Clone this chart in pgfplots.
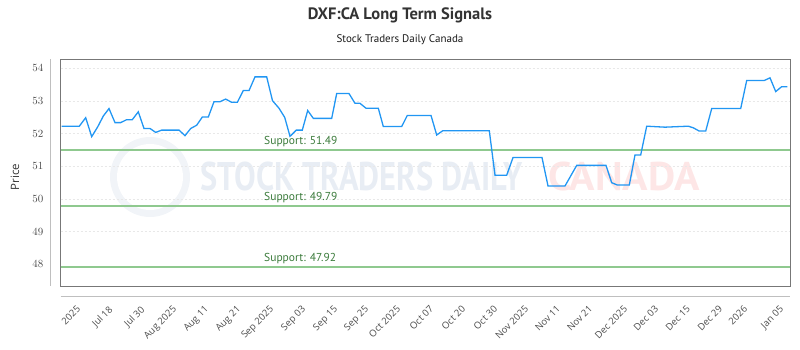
\documentclass[border=0pt]{standalone}
\usepackage{pgfplots}
\pgfplotsset{compat=1.18}
\usepackage{fontspec}
\setmainfont{PT Sans}
\newfontfamily\tickfont{Open Sans}
\definecolor{lineblue}{HTML}{2196F3}
\definecolor{supline}{HTML}{8FC98F}
\definecolor{suptext}{HTML}{3A7A3A}
\definecolor{bordergray}{HTML}{777777}
\definecolor{wmblue}{HTML}{E8EDF4}
\definecolor{wmred}{HTML}{FDE6E6}
\begin{document}
\begin{tikzpicture}[x=1pt,y=1pt]
\useasboundingbox (-60.5,-64) rectangle (739.5,286);
\fill[wmblue!60] (89.5,109) circle (40);
\fill[white] (89.5,109) circle (33);
\node[text=wmblue, font=\fontsize{40}{40}\selectfont\bfseries, anchor=west, inner sep=0pt, xscale=0.81] at (139.5,109) {STOCK TRADERS DAILY};
\node[text=wmred, font=\fontsize{40}{40}\selectfont\bfseries, anchor=west, inner sep=0pt, xscale=1.05] at (487.5,109) {CANADA};
\begin{axis}[
  at={(0,0)}, anchor=south west,
  scale only axis,
  width=729.5pt, height=227pt,
  xmin=60.5, xmax=790,
  ymin=47.338, ymax=54.287,
  axis line style={bordergray, line width=0.8pt},
  ytick={48,49,50,51,52,53,54},
  ymajorgrids=false,
  extra y ticks={49,50,51,52,53,54},
  extra y tick labels={},
  extra y tick style={grid=major},
  grid style={dash pattern=on 2pt off 2pt, gray!18, line width=0.5pt},
  major tick length=0pt,
  yticklabel style={font=\tickfont\fontsize{10.5}{12}\selectfont, text=black!70, inner sep=0pt, anchor=east},
  yticklabel shift=17pt,
  xtick={76,108,140,172,204,236,269,301,333,364,396,429,461,493,524,556,588,623,654,686,718,743,779},
  xticklabels={2025,Jul 18,Jul 30,Aug 2025,Aug 11,Aug 21,Sep 2025,Sep 03,Sep 15,Sep 25,Oct 2025,Oct 07,Oct 20,Oct 30,Nov 2025,Nov 11,Nov 21,Dec 2025,Dec 03,Dec 15,Dec 29,2026,Jan 05},
  xticklabel style={font=\tickfont\fontsize{9.5}{11}\selectfont, text=black!70, inner sep=0pt, rotate=45, anchor=north east},
  xticklabel shift=19pt,
  clip=false,
]
\addplot[supline, line width=2pt] coordinates {(60.5,51.49) (790,51.49)};
\addplot[supline, line width=2pt] coordinates {(60.5,49.79) (790,49.79)};
\addplot[supline, line width=2pt] coordinates {(60.5,47.92) (790,47.92)};
\addplot[lineblue, line width=1.3pt] coordinates {
(61.7,52.23) (79.3,52.23) (85.7,52.49) (91.7,51.91) (97.7,52.21) (103.3,52.54) (109,52.77) (115,52.34) (120.7,52.34) (126.7,52.43) (132.3,52.43) (138.3,52.67) (144,52.16) (150,52.16) (155.7,52.04) (161.7,52.11) (179,52.11) (185,51.94) (190.7,52.16) (196.7,52.26) (202.3,52.51) (208.3,52.51) (214,52.98) (220,52.98) (225.7,53.06) (231.7,52.96) (237.3,52.96) (243.3,53.32) (249,53.32) (255,53.74) (266.7,53.74) (272.5,53.01) (279,52.78) (284.7,52.5) (290,51.92) (296.3,52.11) (302.3,52.11) (307.7,52.71) (313.3,52.47) (331.7,52.47) (336.7,53.23) (349,53.23) (355,52.93) (360,52.93) (366,52.78) (378.3,52.78) (383.3,52.22) (401.7,52.22) (407.3,52.56) (431,52.56) (436.7,51.96) (442.7,52.09) (489.3,52.09) (495,50.73) (506.7,50.73) (513,51.27) (542,51.27) (548,50.4) (565,50.4) (576.7,51.03) (606,51.03) (611.7,50.5) (617.3,50.43) (629.3,50.43) (635,51.35) (640.7,51.35) (646.7,52.23) (665,52.2) (688.3,52.23) (693.3,52.18) (699.3,52.08) (705.7,52.08) (711.7,52.77) (740.7,52.77) (746.7,53.63) (764.3,53.63) (770,53.71) (775.7,53.29) (781.7,53.44) (787.3,53.44)
};
\node[text=suptext, font=\fontsize{11.5}{13}\selectfont, anchor=south west, inner sep=0pt] at (axis cs:264,51.49) [yshift=3pt] {Support: 51.49};
\node[text=suptext, font=\fontsize{11.5}{13}\selectfont, anchor=south west, inner sep=0pt] at (axis cs:264,49.79) [yshift=3pt] {Support: 49.79};
\node[text=suptext, font=\fontsize{11.5}{13}\selectfont, anchor=south west, inner sep=0pt] at (axis cs:264,47.92) [yshift=3pt] {Support: 47.92};
\end{axis}
\draw[gray!50, line width=0.8pt] (-10.5,0) -- (-10.5,227);
\draw[gray!50, line width=0.8pt] (0,-10) -- (729.5,-10);
\node[font=\tickfont\fontsize{11.5}{13}\selectfont, text=black!80, rotate=90] at (-45.5,109) {Price};
\node[font=\fontsize{16.5}{19}\selectfont\bfseries, text=black!80] at (339.5,271) {DXF:CA Long Term Signals};
\node[font=\fontsize{11}{13}\selectfont, text=black!90] at (339.5,246) {Stock Traders Daily Canada};
\end{tikzpicture}
\end{document}
